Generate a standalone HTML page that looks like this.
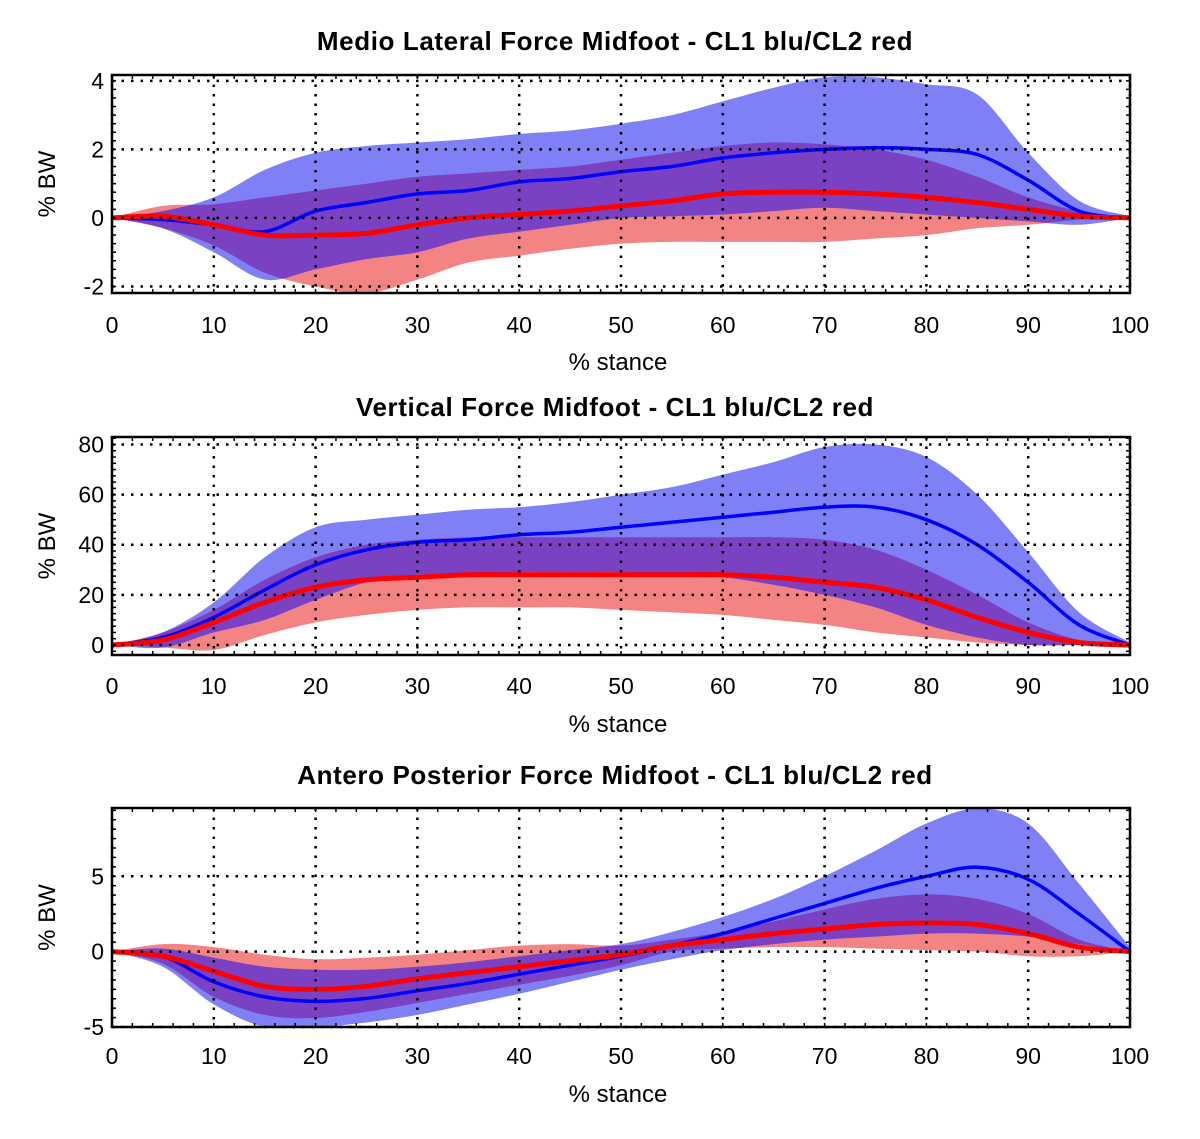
<!DOCTYPE html>
<html><head><meta charset="utf-8"><style>
body{margin:0;background:#fff;}
svg text{font-family:"Liberation Sans",Arial,sans-serif;}
</style></head><body>
<svg id="fig" width="1200" height="1134" viewBox="0 0 1200 1134" xmlns="http://www.w3.org/2000/svg"></svg>
<script>
const xPct=[0,5,10,15,20,25,30,35,40,45,50,55,60,65,70,75,80,85,90,95,100];
const xTicks=[0,10,20,30,40,50,60,70,80,90,100];

// Plot 1: Medio Lateral
const mlBlueMean=[0,-0.05,-0.2,-0.4,0.2,0.45,0.7,0.8,1.05,1.15,1.35,1.5,1.75,1.9,2.0,2.05,2.0,1.85,1.1,0.2,0];
const mlBlueUp=[0,0.2,0.6,1.4,1.9,2.1,2.2,2.3,2.45,2.55,2.75,3.0,3.4,3.8,4.1,4.1,3.9,3.6,1.9,0.5,0.05];
const mlBlueLo=[0,-0.3,-1.0,-1.8,-1.5,-1.2,-1.0,-0.6,-0.4,-0.2,0,0.05,0.1,0.2,0.3,0.2,0.1,0,-0.1,-0.2,0];
const mlRedMean=[0,0.05,-0.2,-0.5,-0.5,-0.45,-0.2,0,0.1,0.2,0.35,0.5,0.7,0.75,0.75,0.7,0.6,0.45,0.25,0.05,0];
const mlRedUp=[0,0.35,0.4,0.6,0.8,1.0,1.2,1.3,1.4,1.5,1.7,1.9,2.1,2.2,2.15,2.0,1.7,1.2,0.6,0.2,0];
const mlRedLo=[0,-0.3,-0.8,-1.6,-2.0,-2.2,-1.8,-1.3,-1.1,-0.9,-0.75,-0.7,-0.7,-0.7,-0.7,-0.6,-0.5,-0.3,-0.2,-0.05,0];
const mlTicks=[-2,0,2,4];

// Plot 2: Vertical
const vBlueMean=[0,3,11,22,32,38,41,42,44,45,47,49,51,53,55,55,50,40,25,8,0];
const vBlueUp=[0,5,17,35,47,50,52,54,55,57,60,63,68,73,79,80,75,60,37,13,1];
const vBlueLo=[0,-1,5,10,18,25,28,28,29,29,29,28,27,24,20,15,8,3,0,0,0];
const vRedMean=[0,2,9,17,23,26,27,28,28,28,28,28,28,27,25,23,18,11,5,1,0];
const vRedUp=[0,5,14,26,35,40,42,43,43,43,43,43,43,43,42,38,30,20,9,2,0];
const vRedLo=[0,-1,-2,4,9,12,14,15,15,15,14,13,12,10,8,5,3,1,0,0,0];
const vTicks=[0,20,40,60,80];

// Plot 3: Antero Posterior
const apBlueMean=[0,-0.3,-2,-3,-3.3,-3.1,-2.6,-2.1,-1.5,-0.9,-0.3,0.4,1.2,2.2,3.2,4.2,5.0,5.6,4.8,2.5,0];
const apBlueUp=[0,0.2,-0.4,-1.0,-1.2,-1.2,-1.0,-0.7,-0.3,0.1,0.5,1.3,2.3,3.5,5.0,6.7,8.5,9.5,8.5,4.5,0.3];
const apBlueLo=[0,-1,-3.5,-5,-5,-4.7,-4.2,-3.5,-2.8,-2,-1.2,-0.5,0.1,0.5,0.8,1.0,1.2,1.2,1.0,0.5,0];
const apRedMean=[0,-0.3,-1.3,-2.3,-2.5,-2.3,-1.8,-1.4,-1.0,-0.6,-0.2,0.4,0.8,1.2,1.5,1.8,1.9,1.8,1.2,0.3,0];
const apRedUp=[0,0.5,0.3,-0.2,-0.5,-0.4,-0.2,0.1,0.4,0.5,0.4,0.8,1.3,2.0,2.8,3.5,3.8,3.5,2.5,0.8,0];
const apRedLo=[0,-0.8,-3,-4.2,-4.4,-4,-3.4,-2.8,-2.2,-1.6,-0.9,0,0.2,0.3,0.3,0.2,0.1,0,-0.3,-0.3,0];
const apTicks=[-5,0,5];

const NS='http://www.w3.org/2000/svg';
const svg=document.getElementById('fig');
function mk(tag,attrs,parent){const e=document.createElementNS(NS,tag);for(const k in attrs)e.setAttribute(k,attrs[k]);(parent||svg).appendChild(e);return e;}

// Catmull-Rom smooth path through points; move=true starts with M else continues with L
function smooth(pts,move){
  let d=(move?'M':'L')+pts[0][0].toFixed(1)+','+pts[0][1].toFixed(1);
  for(let i=0;i<pts.length-1;i++){
    const p0=pts[Math.max(0,i-1)],p1=pts[i],p2=pts[i+1],p3=pts[Math.min(pts.length-1,i+2)];
    const c1x=p1[0]+(p2[0]-p0[0])/6,c1y=p1[1]+(p2[1]-p0[1])/6;
    const c2x=p2[0]-(p3[0]-p1[0])/6,c2y=p2[1]-(p3[1]-p1[1])/6;
    d+='C'+c1x.toFixed(1)+','+c1y.toFixed(1)+' '+c2x.toFixed(1)+','+c2y.toFixed(1)+' '+p2[0].toFixed(1)+','+p2[1].toFixed(1);
  }
  return d;
}

const panels=[
 {key:'ml',title:'Medio Lateral Force Midfoot  - CL1 blu/CL2 red',top:75,bot:293,ymin:-2.19,ymax:4.17,ticks:mlTicks,minor:0.25,
  bm:mlBlueMean,bu:mlBlueUp,bl:mlBlueLo,rm:mlRedMean,ru:mlRedUp,rl:mlRedLo,titleY:50,labelY:333,xlabY:370},
 {key:'vert',title:'Vertical Force Midfoot  - CL1 blu/CL2 red',top:437,bot:655,ymin:-4,ymax:83,ticks:vTicks,minor:2.5,
  bm:vBlueMean,bu:vBlueUp,bl:vBlueLo,rm:vRedMean,ru:vRedUp,rl:vRedLo,titleY:416,labelY:694,xlabY:732},
 {key:'ap',title:'Antero Posterior Force Midfoot - CL1 blu/CL2 red',top:808,bot:1027,ymin:-5,ymax:9.53,ticks:apTicks,minor:0.625,
  bm:apBlueMean,bu:apBlueUp,bl:apBlueLo,rm:apRedMean,ru:apRedUp,rl:apRedLo,titleY:784,labelY:1064,xlabY:1102}
];
const L=112,R=1130;
panels.forEach((p,pi)=>{
  const g=mk('g',{});
  
  
  const xs=v=>L+(R-L)*v/100;
  const ys=v=>p.bot-(p.bot-p.top)*(v-p.ymin)/(p.ymax-p.ymin);
  const clipId='clip'+pi;
  const cp=mk('clipPath',{id:clipId},g);
  mk('rect',{x:L,y:p.top,width:R-L,height:p.bot-p.top},cp);
  const pts=arr=>xPct.map((x,i)=>[xs(x),ys(arr[i])]);
  const band=(up,lo)=>smooth(pts(up),true)+smooth(pts(lo).reverse(),false)+'Z';
  const line=m=>smooth(pts(m),true);
  const plot=mk('g',{'clip-path':'url(#'+clipId+')'},g);
  const rb=mk('path',{d:band(p.ru,p.rl),fill:'#f48484'},plot);
  
  
  const bb=mk('path',{d:band(p.bu,p.bl),fill:'#8080f6'},plot);
  
  
  const ic='iclip'+pi;
  const cp2=mk('clipPath',{id:ic},g);
  mk('path',{d:band(p.ru,p.rl)},cp2);
  const ov=mk('path',{d:band(p.bu,p.bl),fill:'#7a42c2','clip-path':'url(#'+ic+')'},plot);
  
  
  xTicks.forEach(t=>{mk('line',{x1:xs(t),x2:xs(t),y1:p.top,y2:p.bot,stroke:'#000','stroke-width':2.5,'stroke-dasharray':'2.5 7'},g);});
  p.ticks.forEach(t=>{mk('line',{x1:L,x2:R,y1:ys(t),y2:ys(t),stroke:'#000','stroke-width':2.5,'stroke-dasharray':'2.5 7'},g);});
  const bl=mk('path',{d:line(p.bm),fill:'none',stroke:'#0000ff','stroke-width':3.5},plot);
  
  
  const rl=mk('path',{d:line(p.rm),fill:'none',stroke:'#ff0000','stroke-width':5},plot);
  
  
  mk('rect',{x:L,y:p.top,width:R-L,height:p.bot-p.top,fill:'none',stroke:'#000','stroke-width':2.5},g);
  for(let v=0;v<=100;v+=2){mk('line',{x1:xs(v),x2:xs(v),y1:p.top,y2:p.top+4,stroke:'#000','stroke-width':1.5},g);mk('line',{x1:xs(v),x2:xs(v),y1:p.bot,y2:p.bot-4,stroke:'#000','stroke-width':1.5},g);}
  for(let v=Math.ceil(p.ymin/p.minor)*p.minor;v<=p.ymax;v+=p.minor){mk('line',{x1:L,x2:L+4,y1:ys(v),y2:ys(v),stroke:'#000','stroke-width':1.5},g);mk('line',{x1:R,x2:R-4,y1:ys(v),y2:ys(v),stroke:'#000','stroke-width':1.5},g);}
  xTicks.forEach(t=>{const tx=mk('text',{x:xs(t),y:p.labelY,'font-size':23,'text-anchor':'middle'},g);tx.textContent=t;
    
    });
  p.ticks.forEach(t=>{const tx=mk('text',{x:L-8,y:ys(t)+8,'font-size':23,'text-anchor':'end'},g);tx.textContent=t;
    
    });
  const ti=mk('text',{x:615,y:p.titleY,'font-size':26,'font-weight':'bold','text-anchor':'middle','letter-spacing':'0.6'},g);ti.textContent=p.title;
  
  
  const xl=mk('text',{x:618,y:p.xlabY,'font-size':24,'text-anchor':'middle'},g);xl.textContent='% stance';
  
  
  const cy=(p.top+p.bot)/2;
  const yl=mk('text',{x:55,y:cy,'font-size':24,'text-anchor':'middle',transform:'rotate(-90 55 '+cy+')'},g);yl.textContent='% BW';
  
  
});
</script>
</body></html>
